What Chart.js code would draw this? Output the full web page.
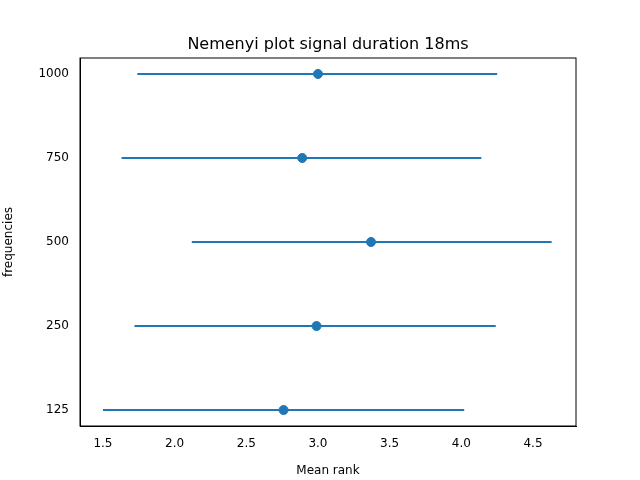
<!DOCTYPE html>
<html>
<head>
<meta charset="utf-8">
<script src="https://cdn.jsdelivr.net/npm/chart.js@4/dist/chart.umd.min.js"></script>
<style>body{margin:0;background:#fff}canvas{display:block}</style>
</head>
<body>
<canvas id="c" width="640" height="480"></canvas>
<script>
// Nemenyi data
const frequencies = ['125', '250', '500', '750', '1000'];
const meanRanks = [2.76, 2.99, 3.37, 2.89, 3.0];
const lowerBounds = [1.50, 1.72, 2.12, 1.63, 1.74];
const upperBounds = [4.02, 4.24, 4.63, 4.14, 4.25];
const xTicks = [1.5, 2.0, 2.5, 3.0, 3.5, 4.0, 4.5];

const color = '#1f77b4';

// error bar segments separated by nulls
const segments = [];
frequencies.forEach((f, i) => {
    segments.push({x: lowerBounds[i], y: i});
    segments.push({x: upperBounds[i], y: i});
    segments.push({x: null, y: null});
});

const titlePlugin = {
    id: 'mplTitle',
    afterDraw(chart) {
        const ctx = chart.ctx;
        ctx.save();
        ctx.font = '16px "DejaVu Sans"';
        ctx.fillStyle = '#000';
        ctx.textAlign = 'center';
        ctx.textBaseline = 'alphabetic';
        ctx.fillText('Nemenyi plot signal duration 18ms', (chart.chartArea.left + chart.chartArea.right) / 2, 49);
        ctx.restore();
    }
};

const ctx = document.getElementById('c').getContext('2d');
new Chart(ctx, {
    type: 'scatter',
    data: {
        datasets: [{
            type: 'line',
            data: segments,
            borderColor: color,
            borderWidth: 2,
            pointRadius: 0,
            spanGaps: false
        }, {
            data: meanRanks.map((m, i) => ({x: m, y: i})),
            backgroundColor: color,
            borderColor: color,
            pointRadius: 4.5
        }]
    },
    options: {
        responsive: false,
        animation: false,
        layout: {padding: {top: 58, right: 64, left: 0, bottom: 0}},
        plugins: {legend: {display: false}, tooltip: {enabled: false}},
        scales: {
            x: {
                type: 'linear',
                min: 1.34, max: 4.8,
                afterBuildTicks(s) { s.ticks = xTicks.map(v => ({value: v})); },
                afterFit(s) { s.height = 54; },
                grid: {display: false, drawTicks: true},
                border: {color: '#000'},
                ticks: {color: '#000', font: {family: 'DejaVu Sans', size: 12}, callback: v => v.toFixed(1)},
                title: {display: true, text: 'Mean rank', color: '#000', font: {family: 'DejaVu Sans', size: 12}, padding: 2}
            },
            y: {
                type: 'linear',
                min: -0.19, max: 4.19,
                afterBuildTicks(s) { s.ticks = frequencies.map((f, i) => ({value: i})); },
                afterFit(s) { s.width = 80; },
                grid: {display: false},
                border: {color: '#000'},
                ticks: {color: '#000', font: {family: 'DejaVu Sans', size: 12}, callback: v => frequencies[v]},
                title: {display: true, text: 'frequencies', color: '#000', font: {family: 'DejaVu Sans', size: 12}, padding: 2}
            }
        }
    },
    plugins: [titlePlugin, {
        id: 'frame',
        afterDraw(chart) {
            const a = chart.chartArea, c = chart.ctx;
            c.save(); c.strokeStyle = '#000'; c.lineWidth = 1;
            c.strokeRect(a.left, a.top, a.right - a.left, a.bottom - a.top);
            c.restore();
        }
    }]
});
</script>
</body>
</html>
